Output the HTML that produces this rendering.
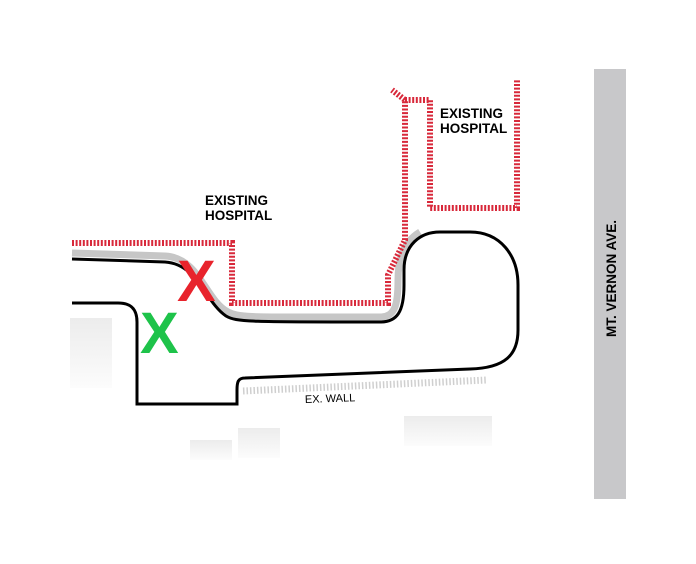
<!DOCTYPE html>
<html><head><style>
html,body{margin:0;padding:0;background:#fff;width:696px;height:564px;overflow:hidden}
svg{display:block}
text{font-family:"Liberation Sans",sans-serif;font-weight:bold}
</style></head><body>
<svg width="696" height="564" viewBox="0 0 696 564" xmlns="http://www.w3.org/2000/svg">
<defs>
<linearGradient id="g" x1="0" y1="0" x2="0" y2="1"><stop offset="0" stop-color="#ececec"/><stop offset="1" stop-color="#fcfcfc"/></linearGradient>
</defs>
<!-- faded buildings -->
<rect x="70" y="318" width="42" height="70" fill="url(#g)"/>
<rect x="190" y="440" width="42" height="20" fill="url(#g)"/>
<rect x="238" y="428" width="42" height="30" fill="url(#g)"/>
<rect x="404" y="416" width="88" height="30" fill="url(#g)"/>
<!-- wall ticks -->
<line x1="243" y1="391" x2="487" y2="380" stroke="#cfcfcf" stroke-width="7" stroke-dasharray="1.5 2"/>
<!-- gray shadow -->
<path d="M72 253 L165 256 C200 258 205 300 228 312 C240 318 250 317 380 317 C395 317 398 305 398 280 C398 250 410 238 420 232" fill="none" stroke="#c6c6c6" stroke-width="7"/>
<!-- road outline -->
<path d="M72 259 L165 262 C198 264 205 302 226 316 C236 322 250 322 380 322 C397 322 404 312 404 285 L404 270 C404 245 420 232 440 232 L470 232 C500 232 518 255 518 285 L518 330 C518 355 505 368 470 369 L245 378 C238 378 237 382 237 390 L237 404 L137 404 L137 322 C137 308 130 303 118 303 L72 303" fill="none" stroke="#000" stroke-width="3"/>
<!-- hatched red lines -->
<g fill="none" stroke="#d8283a" stroke-width="6" stroke-dasharray="2 1.6">
<path d="M72 243 L232 243 L232 303 L388 303 L388 275 L405 240 L405 100 L392 90"/>
<path d="M405 100 L430 100 L430 208 L517 208 L517 80"/>
</g>
<!-- labels -->
<text x="205" y="205" font-size="13.5">EXISTING</text>
<text x="205" y="220" font-size="13.5">HOSPITAL</text>
<text x="440" y="118" font-size="13.5">EXISTING</text>
<text x="440" y="133" font-size="13.5">HOSPITAL</text>
<text x="305" y="403" font-size="11" style="font-weight:normal" transform="rotate(-2 305 403)">EX. WALL</text>
<!-- road -->
<rect x="594" y="69" width="32" height="430" fill="#c8c8ca"/>
<text x="0" y="0" font-size="13.5" transform="translate(616 337) rotate(-90)">MT. VERNON AVE.</text>
<!-- X marks -->
<text x="177" y="301" font-size="58" fill="#e8232c">X</text>
<text x="140" y="353" font-size="58" fill="#1ec34a">X</text>
</svg>
</body></html>
